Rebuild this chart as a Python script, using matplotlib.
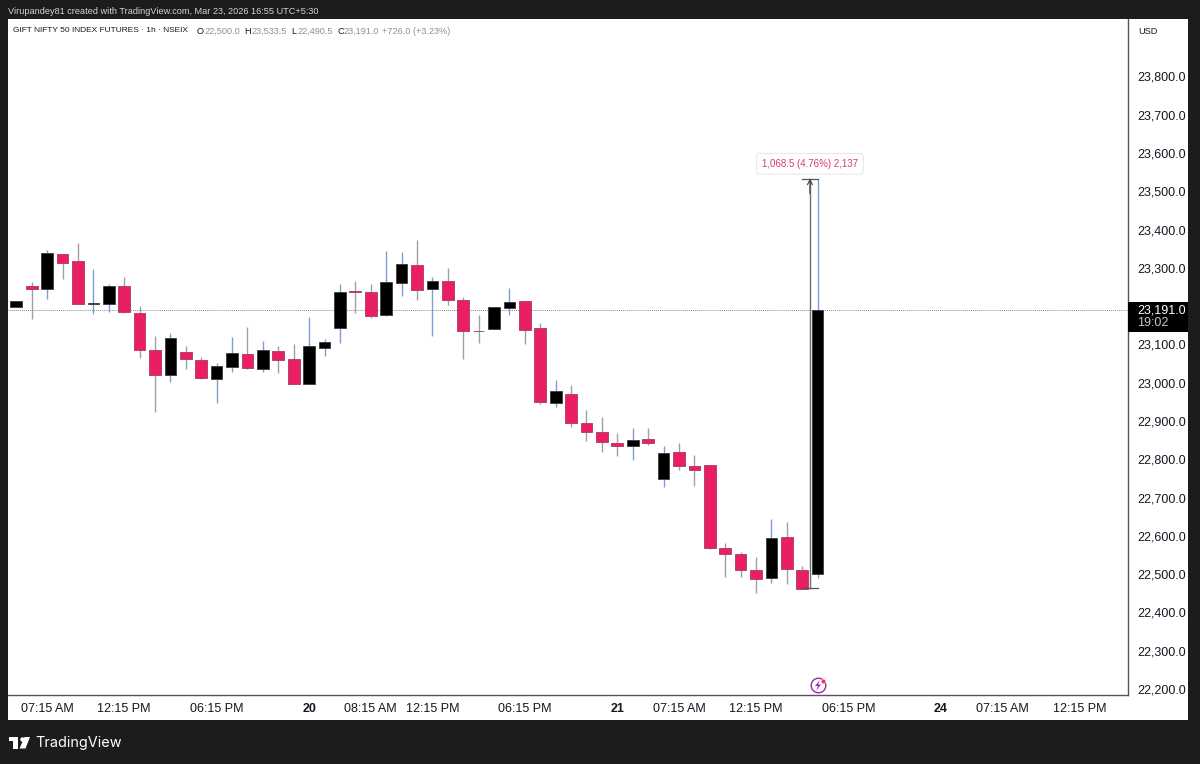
#!/usr/bin/env python
# -*- coding: utf-8 -*-
import matplotlib
matplotlib.use('Agg')
import matplotlib.pyplot as plt
from matplotlib.lines import Line2D
from matplotlib.patches import Polygon, Rectangle

plt.rcParams['font.family'] = ['Liberation Sans', 'DejaVu Sans']

# candles
opens = [23197, 23254, 23245, 23337, 23319, 23205, 23206, 23253, 23182, 23086, 23020,
         23081, 23059, 23011, 23041, 23075, 23036, 23082, 23061, 22998, 23092, 23143,
         23240, 23238, 23177, 23261, 23308, 23245, 23265, 23215, 23136, 23141, 23196,
         23214, 23144, 22946, 22971, 22895, 22872, 22843, 22836, 22852, 22748, 22818,
         22783, 22784, 22568, 22552, 22512, 22490, 22597, 22512, 22500]
highs = [23214, 23264, 23347, 23337, 23366, 23296, 23258, 23275, 23200, 23123, 23129,
         23096, 23067, 23051, 23119, 23145, 23108, 23095, 23102, 23171, 23113, 23258,
         23267, 23258, 23343, 23341, 23373, 23277, 23301, 23223, 23178, 23197, 23247,
         23214, 23157, 23008, 22994, 22930, 22910, 22868, 22881, 22881, 22835, 22843,
         22812, 22784, 22581, 22557, 22545, 22644, 22636, 22520, 23533.5]
lows = [23197, 23166, 23220, 23270, 23205, 23179, 23186, 23183, 23065, 22923, 23002,
        23037, 23009, 22948, 23029, 23035, 23028, 23026, 22998, 22996, 23070, 23105,
        23183, 23169, 23174, 23227, 23217, 23123, 23202, 23061, 23105, 23141, 23178,
        23102, 22944, 22937, 22885, 22847, 22820, 22809, 22799, 22837, 22728, 22772,
        22729, 22565, 22492, 22493, 22452, 22476, 22474, 22462, 22490.5]
closes = [23214, 23244, 23338, 23314, 23207, 23208, 23253, 23184, 23086, 23021, 23118,
          23061, 23013, 23045, 23077, 23038, 23085, 23060, 22998, 23095, 23107, 23236,
          23236, 23175, 23262, 23309, 23243, 23265, 23217, 23136, 23134, 23197, 23211,
          23139, 22950, 22978, 22895, 22871, 22844, 22836, 22851, 22842, 22817, 22783,
          22773, 22568, 22552, 22512, 22488, 22594, 22514, 22462, 23191]

# 23,200.0 sits behind the last price tag in the original
price_ticks = [22200, 22300, 22400, 22500, 22600, 22700, 22800, 22900, 23000, 23100,
               23300, 23400, 23500, 23600, 23700, 23800]
time_ticks = [2, 7, 13, 19, 23, 27, 33, 39, 43, 48, 54, 60, 64, 69]
time_labels = ['07:15 AM', '12:15 PM', '06:15 PM', '20', '08:15 AM', '12:15 PM', '06:15 PM',
               '21', '07:15 AM', '12:15 PM', '06:15 PM', '24', '07:15 AM', '12:15 PM']

last_price = 23191.0
measure_from = 22465.0
measure_to = 23533.5

W, H = 1200, 764
DARK = '#1c1c1c'
RED = '#e91e63'
BLACK = '#000000'
TEXT = '#131722'


def px(x, y):
    # picture pixels -> figure fraction
    return x / W, 1 - y / H


fig = plt.figure(figsize=(W / 100, H / 100), dpi=100, facecolor=DARK)
fig.add_artist(Rectangle(px(8, 720), 1180 / W, 701 / H, transform=fig.transFigure,
                         facecolor='white', edgecolor='none', zorder=-1))

ax = fig.add_axes([8 / W, 1 - 695 / H, 1120 / W, 676 / H], facecolor='none')
ax.set_xlim(-0.539, 72.14)
ax.set_ylim(22184.3, 23950.2)

# candles
for i in range(len(opens)):
    up = closes[i] >= opens[i]
    ax.vlines(i, lows[i], highs[i], color='#7f9cd8' if up else '#a0a0a0', lw=1.0, zorder=2)
    ax.bar(i, abs(closes[i] - opens[i]), bottom=min(opens[i], closes[i]), width=0.76,
           color=BLACK if up else RED, edgecolor='#3c3c3c' if up else '#a8385f', lw=0.6, zorder=3)

ax.axhline(last_price, color='#8a8a8a', lw=0.7, ls=(0, (1, 1)), zorder=1)

# measure tool
ax.plot([51.5, 51.5], [measure_from, measure_to], color='#6e6e6e', lw=1.0, zorder=4)
ax.plot([51, 52], [measure_to, measure_to], color='#555555', lw=0.9, zorder=4)
ax.plot([51, 52], [measure_from, measure_from], color='#555555', lw=0.9, zorder=4)
ax.annotate('', xy=(51.5, measure_to), xytext=(51.5, measure_to - 40),
            arrowprops=dict(arrowstyle='->', color='#444444', lw=0.8, shrinkA=0, shrinkB=0,
                            mutation_scale=9), zorder=5)
ax.annotate('1,068.5 (4.76%) 2,137', xy=(51.5, measure_to), xytext=(0, 7),
            textcoords='offset points', ha='center', va='bottom', fontsize=7, color='#d83a72',
            bbox=dict(boxstyle='round,pad=0.55,rounding_size=0.3', fc='white', ec='#e9e9e9', lw=0.8),
            zorder=6)

# axes furniture
for name in ['top', 'left']:
    ax.spines[name].set_visible(False)
for name in ['right', 'bottom']:
    ax.spines[name].set_color('#555555')
    ax.spines[name].set_linewidth(1.0)

ax.yaxis.tick_right()
ax.set_yticks(price_ticks)
ax.set_yticklabels(['{:,.1f}'.format(v) for v in price_ticks], fontsize=9, color=TEXT)
ax.tick_params(axis='y', length=0, pad=6.5)
ax.set_xticks(time_ticks)
ax.set_xticklabels(time_labels, fontsize=9, color=TEXT)
ax.tick_params(axis='x', length=0, pad=6)
for lab in ax.get_xticklabels():
    if len(lab.get_text()) == 2:
        lab.set_fontweight('bold')

# last price tag
fig.add_artist(Rectangle(px(1128, 332), 60 / W, 30 / H, transform=fig.transFigure,
                         facecolor=BLACK, edgecolor='none', zorder=5))
fig.text(*px(1137, 310.5), '23,191.0', color='white', fontsize=9, va='center', zorder=6)
fig.text(*px(1137, 323.5), '19:02', color='#c8c8c8', fontsize=9, va='center', zorder=6)
fig.text(*px(1138, 31), 'USD', color=TEXT, fontsize=6.6, va='center')

# header lines
fig.text(*px(8, 11), 'Virupandey81 created with TradingView.com, Mar 23, 2026 16:55 UTC+5:30',
         color='#d4d4d4', fontsize=6.55, va='center')
fig.text(*px(13, 31), 'GIFT NIFTY 50 INDEX FUTURES · 1h · NSEIX', color=TEXT, fontsize=6.05, va='center')
for x, s in [(197, 'O'), (244, 'H'), (291, 'L'), (337, 'C')]:
    fig.text(*px(x, 31), s, color=TEXT, fontsize=6.6, va='center')
for x, s in [(204, '22,500.0'), (251, '23,533.5'), (297, '22,490.5'), (343, '23,191.0'),
             (382, '+726.0 (+3.23%)')]:
    fig.text(*px(x, 31), s, color='#8f8f8f', fontsize=6.6, va='center')

# lightning mark near the time axis
fig.add_artist(Line2D(*zip(px(818, 685)), marker='o', ms=10.5, mfc='white', mec='#9c27b0', mew=1.0,
                      transform=fig.transFigure, zorder=5))
fig.add_artist(Polygon([px(820, 680), px(815, 686), px(818, 686), px(816, 691), px(821, 684.5),
                        px(818, 684.5)], closed=True, transform=fig.transFigure,
                       facecolor='#9c27b0', edgecolor='none', zorder=6))
fig.add_artist(Line2D(*zip(px(822.5, 680.5)), marker='o', ms=3.2, mfc='#f23645', mec='white', mew=0.3,
                      transform=fig.transFigure, zorder=7))

# TradingView logo
fig.add_artist(Polygon([px(8.7, 737), px(18.3, 737), px(18.3, 748.5), px(13, 748.5), px(13, 741), px(8.7, 741)],
                       closed=True, transform=fig.transFigure, facecolor='white', edgecolor='none'))
fig.add_artist(Line2D(*zip(px(21.5, 739)), marker='o', ms=3.2, mfc='white', mec='none',
                      transform=fig.transFigure))
fig.add_artist(Polygon([px(24.5, 737), px(30, 737), px(25.5, 748.5), px(19.5, 748.5)],
                       closed=True, transform=fig.transFigure, facecolor='white', edgecolor='none'))
fig.text(*px(35, 742.5), 'TradingView', color='white', fontsize=10.4, family='Inter', va='center')

fig.savefig('out.png', dpi=100, facecolor=fig.get_facecolor())
